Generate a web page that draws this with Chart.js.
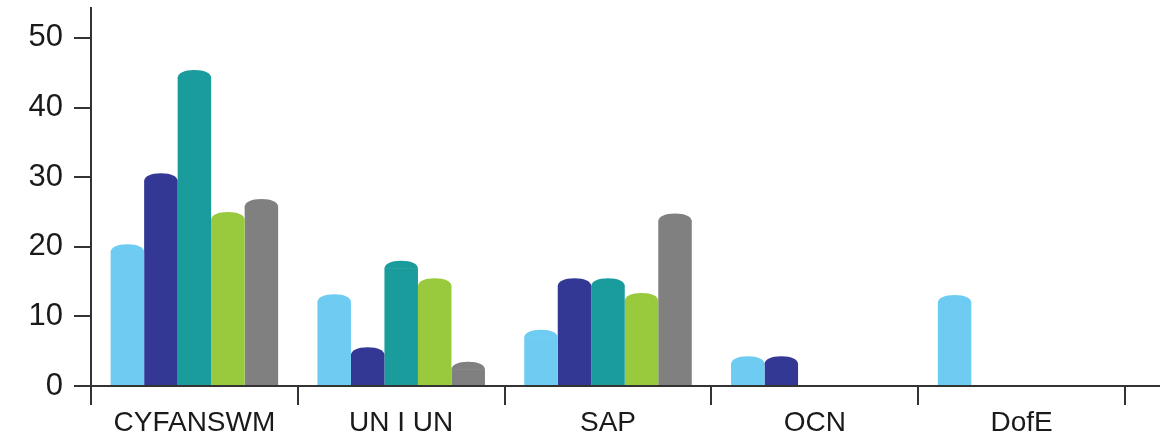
<!DOCTYPE html>
<html>
<head>
<meta charset="utf-8">
<script src="https://cdn.jsdelivr.net/npm/chart.js@4.4.1/dist/chart.umd.min.js"></script>
<style>
  html, body { margin: 0; padding: 0; background: #fff; }
  #wrap { width: 1173px; height: 438px; }
</style>
</head>
<body>
<div id="wrap"><canvas id="barChart"></canvas></div>
<script>
// categories and series values
const categories = ['CYFANSWM', 'UN I UN', 'SAP', 'OCN', 'DofE'];
const series1 = [19.3, 12.1, 7.0, 3.2, 12.0];
const series2 = [29.5, 4.5, 14.4, 3.2, 0];
const series3 = [44.3, 16.9, 14.4, 0, 0];
const series4 = [23.9, 14.4, 12.3, 0, 0];
const series5 = [25.8, 2.4, 23.7, 0, 0];
const yTicks = [0, 10, 20, 30, 40, 50];

const colors = ['#6ecbf2', '#333894', '#1a9b9c', '#99c93d', '#808080'];
const axisColor = '#333333';

// rounded "cylinder" caps on top of each bar
const capPlugin = {
    id: 'caps',
    afterDatasetsDraw(chart) {
        const ctx = chart.ctx;
        const h = 8, k = 0.62;
        ctx.save();
        chart.data.datasets.forEach((ds, i) => {
            const meta = chart.getDatasetMeta(i);
            meta.data.forEach((bar, j) => {
                if (!ds.data[j]) return;
                const p = bar.getProps(['x', 'y', 'width'], true);
                const r = p.width / 2;
                const y = p.y + 0.5;
                ctx.fillStyle = ds.backgroundColor;
                ctx.beginPath();
                ctx.moveTo(p.x - r, y);
                ctx.bezierCurveTo(p.x - r, y - h * k, p.x - r * k, y - h, p.x, y - h);
                ctx.bezierCurveTo(p.x + r * k, y - h, p.x + r, y - h * k, p.x + r, y);
                ctx.closePath();
                ctx.fill();
            });
        });
        ctx.restore();
    },
    afterDraw(chart) {
        // x axis line runs a little past the last category
        const ctx = chart.ctx;
        const y0 = chart.scales.y.getPixelForValue(0);
        ctx.save();
        ctx.strokeStyle = axisColor;
        ctx.lineWidth = 2;
        ctx.beginPath();
        ctx.moveTo(chart.chartArea.right, y0);
        ctx.lineTo(chart.chartArea.right + 35, y0);
        ctx.stroke();
        ctx.restore();
    }
};

const datasets = [series1, series2, series3, series4, series5].map((d, i) => ({
    label: 'Series ' + (i + 1),
    data: d,
    backgroundColor: colors[i],
    borderWidth: 0,
    barPercentage: 1,
    categoryPercentage: 0.81
}));

new Chart(document.getElementById('barChart'), {
    type: 'bar',
    data: { labels: categories, datasets: datasets },
    plugins: [capPlugin],
    options: {
        responsive: true,
        maintainAspectRatio: false,
        animation: false,
        layout: { padding: { top: 8, right: 48, left: 0, bottom: 0 } },
        plugins: {
            legend: { display: false },
            tooltip: { enabled: false }
        },
        scales: {
            x: {
                grid: {
                    offset: true,
                    drawOnChartArea: false,
                    tickLength: 19,
                    color: axisColor,
                    lineWidth: 2
                },
                border: { display: true, color: axisColor, width: 2 },
                ticks: {
                    color: '#1a1a1a',
                    padding: 1,
                    maxRotation: 0,
                    font: { family: 'Liberation Sans, Arial, sans-serif', size: 28 }
                },
                afterFit(scale) {
                    scale.height = 52;
                    scale.paddingLeft = 0;
                    scale.paddingRight = 0;
                }
            },
            y: {
                min: 0,
                max: 54.3,
                grid: {
                    drawOnChartArea: false,
                    tickLength: 17,
                    color: axisColor,
                    lineWidth: 2
                },
                border: { display: true, color: axisColor, width: 2 },
                ticks: {
                    color: '#1a1a1a',
                    padding: 11,
                    font: { family: 'Liberation Sans, Arial, sans-serif', size: 31 }
                },
                afterBuildTicks(scale) {
                    scale.ticks = yTicks.map(v => ({ value: v }));
                },
                afterFit(scale) {
                    scale.width = 91;
                    scale.paddingTop = 0;
                    scale.paddingBottom = 0;
                }
            }
        }
    }
});
</script>
</body>
</html>
